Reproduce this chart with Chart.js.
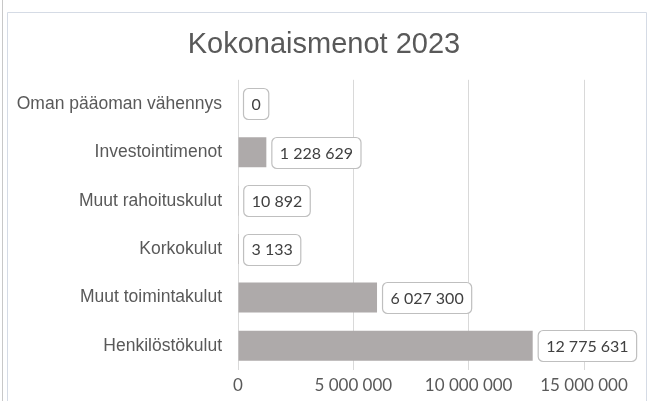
<!DOCTYPE html>
<html>
<head>
<meta charset="utf-8">
<script src="https://cdn.jsdelivr.net/npm/chart.js@4.4.1/dist/chart.umd.min.js"></script>
<style>
  html, body { margin: 0; padding: 0; background: #ffffff; }
  #wrap { position: relative; width: 648px; height: 401px; }
  canvas { display: block; }
</style>
</head>
<body>
<div id="wrap"><canvas id="c" width="648" height="401"></canvas></div>
<script>
const chartTitle = "Kokonaismenot 2023";
const categories = [
  "Oman pääoman vähennys",
  "Investointimenot",
  "Muut rahoituskulut",
  "Korkokulut",
  "Muut toimintakulut",
  "Henkilöstökulut"
];
const values = [0, 1228629, 10892, 3133, 6027300, 12775631];
const axisMin = 0;
const axisMax = 15000000;
const axisStep = 5000000;

function fmt(v) {
  return String(Math.round(v)).replace(/\B(?=(\d{3})+(?!\d))/g, " ");
}

const framePlugin = {
  id: "frame",
  beforeDraw(chart) {
    const ctx = chart.ctx;
    ctx.save();
    ctx.fillStyle = "#ffffff";
    ctx.fillRect(0, 0, chart.width, chart.height);
    ctx.strokeStyle = "#D5DBE5";
    ctx.lineWidth = 1;
    ctx.beginPath();
    ctx.moveTo(7.5, 401);
    ctx.lineTo(7.5, 12.5);
    ctx.lineTo(646.5, 12.5);
    ctx.lineTo(646.5, 401);
    ctx.stroke();
    ctx.strokeStyle = "#C8C8C8";
    ctx.beginPath();
    ctx.moveTo(2.5, 0);
    ctx.lineTo(2.5, 401);
    ctx.stroke();
    ctx.restore();
  }
};

const labelPlugin = {
  id: "valueLabels",
  afterDatasetsDraw(chart) {
    const ctx = chart.ctx;
    const meta = chart.getDatasetMeta(0);
    ctx.save();
    ctx.font = "16px Lato, 'Liberation Sans', sans-serif";
    ctx.textBaseline = "middle";
    ctx.textAlign = "left";
    meta.data.forEach((bar, i) => {
      const txt = fmt(values[i]);
      const tw = ctx.measureText(txt).width;
      const padX = 8, h = 31;
      const x = bar.x + 5.5;
      const y = bar.y - h / 2;
      const w = tw + padX * 2;
      ctx.beginPath();
      ctx.roundRect(x, Math.round(y) + 0.5, w, h, 5);
      ctx.fillStyle = "#ffffff";
      ctx.fill();
      ctx.strokeStyle = "#BFBFBF";
      ctx.lineWidth = 1.2;
      ctx.stroke();
      ctx.fillStyle = "#404040";
      ctx.fillText(txt, x + padX, bar.y + 1);
    });
    ctx.restore();
  }
};

new Chart(document.getElementById("c"), {
  type: "bar",
  data: {
    labels: categories,
    datasets: [{
      data: values,
      backgroundColor: "#AEAAAA",
      borderWidth: 0,
      barPercentage: 0.62,
      categoryPercentage: 1.0
    }]
  },
  options: {
    indexAxis: "y",
    responsive: false,
    animation: false,
    devicePixelRatio: 1,
    layout: { padding: { left: 0, right: 0, top: 0, bottom: 0 } },
    plugins: {
      legend: { display: false },
      tooltip: { enabled: false },
      title: {
        display: true,
        text: chartTitle,
        color: "#595959",
        font: { family: "'Liberation Sans', Arial, sans-serif", size: 29, weight: "normal" },
        padding: { top: 28, bottom: 17 }
      }
    },
    scales: {
      x: {
        min: axisMin,
        max: axisMax,
        ticks: {
          stepSize: axisStep,
          color: "#595959",
          font: { family: "Lato, 'Liberation Sans', sans-serif", size: 17 },
          padding: 5,
          callback: (v) => fmt(v)
        },
        grid: { color: "#D9D9D9", drawTicks: false, lineWidth: 1 },
        border: { display: false },
        afterFit(scale) { scale.height = 31; scale.paddingRight = 64; }
      },
      y: {
        ticks: {
          color: "#595959",
          font: { family: "'Liberation Sans', Arial, sans-serif", size: 17.5 },
          padding: 16
        },
        grid: { display: false, drawTicks: false },
        border: { display: false },
        afterFit(scale) { scale.width = 238; }
      }
    }
  },
  plugins: [framePlugin, labelPlugin]
});
</script>
</body>
</html>
